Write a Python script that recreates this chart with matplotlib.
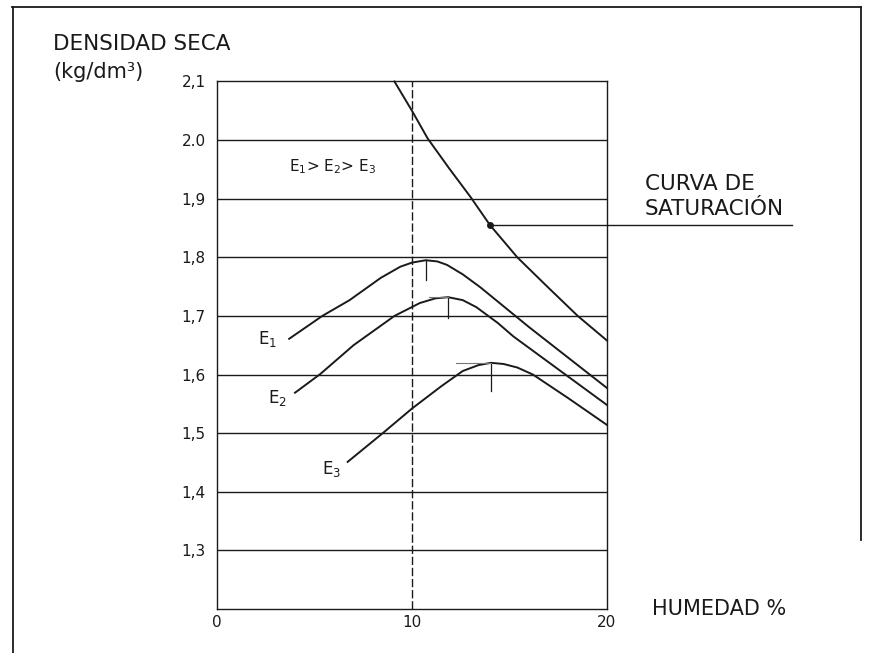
import matplotlib.pyplot as plt
from matplotlib.lines import Line2D

# values
y_ticks = [1.3, 1.4, 1.5, 1.6, 1.7, 1.8, 1.9, 2.0, 2.1]
y_labels = ['1,3', '1,4', '1,5', '1,6', '1,7', '1,8', '1,9', '2.0', '2,1']
x_ticks = [0, 10, 20]
x_labels = ['0', '10', '20']

sat_x = [9.1, 10.0, 10.8, 11.9, 13.0, 14.0, 15.4, 17.0, 18.5, 20.0]
sat_y = [2.10, 2.050, 2.003, 1.952, 1.903, 1.855, 1.80, 1.748, 1.700, 1.658]
sat_point = (14.0, 1.855)

e1_x = [3.7, 5.4, 6.8, 8.4, 9.4, 10.0, 10.7, 11.3, 11.8, 12.6, 13.5, 16.0, 20.0]
e1_y = [1.661, 1.700, 1.727, 1.765, 1.784, 1.791, 1.795, 1.793, 1.787, 1.771, 1.749, 1.681, 1.577]

e2_x = [4.0, 5.3, 7.0, 9.1, 10.4, 11.2, 11.85, 12.6, 13.3, 14.4, 15.2, 20.0]
e2_y = [1.569, 1.601, 1.650, 1.700, 1.722, 1.730, 1.732, 1.727, 1.715, 1.688, 1.665, 1.548]

e3_x = [6.7, 8.5, 10.0, 11.5, 12.6, 13.4, 14.05, 14.7, 15.4, 16.2, 18.0, 20.0]
e3_y = [1.451, 1.500, 1.542, 1.580, 1.606, 1.616, 1.620, 1.618, 1.612, 1.600, 1.560, 1.514]

# optimum (peak) markers
opt_x = [10.7, 11.85, 14.05]
opt_y = [1.795, 1.732, 1.620]

ink = '#1a1a1a'

fig = plt.figure(figsize=(8.74, 6.53), dpi=100)
ax = fig.add_axes([0.2483, 0.0674, 0.4462, 0.8078])
ax.set_xlim(0, 20)
ax.set_ylim(1.2, 2.1)

for s in ax.spines.values():
    s.set_color(ink)
    s.set_linewidth(1.0)

for v in y_ticks[:-1]:
    ax.axhline(v, color=ink, lw=1.0)
ax.axvline(10, color=ink, lw=1.0, ls=(0, (6, 2)))

ax.set_yticks(y_ticks)
ax.set_yticklabels(y_labels)
ax.set_xticks(x_ticks)
ax.set_xticklabels(x_labels)
ax.tick_params(axis='y', length=0, pad=8, labelsize=11, labelcolor=ink)
ax.tick_params(axis='x', length=0, pad=4, labelsize=11, labelcolor=ink)

# curves
ax.plot(sat_x, sat_y, color=ink, lw=1.4, clip_on=False)
ax.plot(e1_x, e1_y, color=ink, lw=1.4)
ax.plot(e2_x, e2_y, color=ink, lw=1.4)
ax.plot(e3_x, e3_y, color=ink, lw=1.4)

# peak ticks
ax.plot([opt_x[0], opt_x[0]], [opt_y[0], opt_y[0] - 0.034], color=ink, lw=0.9)
ax.plot([opt_x[1], opt_x[1]], [opt_y[1], opt_y[1] - 0.036], color=ink, lw=0.9)
ax.plot([opt_x[1] - 1.0, opt_x[1]], [opt_y[1], opt_y[1]], color='#777777', lw=0.8)
ax.plot([opt_x[2], opt_x[2]], [opt_y[2], opt_y[2] - 0.048], color=ink, lw=0.9)
ax.plot([opt_x[2] - 1.8, opt_x[2]], [opt_y[2], opt_y[2]], color='#777777', lw=0.8)

# saturation marker and leader line
ax.plot([sat_point[0]], [sat_point[1]], 'o', color=ink, ms=4)
ax.plot([sat_point[0], 29.5], [sat_point[1], sat_point[1]], color=ink, lw=1.0, clip_on=False)

# labels inside the plot
ax.text(5.9, 1.954, r'E$_1$> E$_2$> E$_3$', fontsize=11, color=ink, ha='center', va='center')
ax.text(2.6, 1.661, r'E$_1$', fontsize=12, color=ink, ha='center', va='center')
ax.text(3.08, 1.560, r'E$_2$', fontsize=12, color=ink, ha='center', va='center')
ax.text(5.9, 1.439, r'E$_3$', fontsize=12, color=ink, ha='center', va='center')

# axis titles
fig.text(53 / 874, 1 - 50 / 653, 'DENSIDAD SECA', fontsize=15.5, color=ink, va='baseline')
fig.text(53 / 874, 1 - 78 / 653, '(kg/dm³)', fontsize=15, color=ink, va='baseline')
fig.text(652 / 874, 1 - 615 / 653, 'HUMEDAD %', fontsize=15, color=ink, va='baseline')
fig.text(645 / 874, 1 - 190 / 653, 'CURVA DE', fontsize=15.5, color=ink, va='baseline')
fig.text(645 / 874, 1 - 215 / 653, 'SATURACIÓN', fontsize=15.5, color=ink, va='baseline')

# outer frame
fig.add_artist(Line2D([12 / 874, 861 / 874], [1 - 7 / 653, 1 - 7 / 653], transform=fig.transFigure, color=ink, lw=1.3))
fig.add_artist(Line2D([12.5 / 874, 12.5 / 874], [1 - 7 / 653, 0], transform=fig.transFigure, color=ink, lw=1.3))
fig.add_artist(Line2D([861 / 874, 861 / 874], [1 - 7 / 653, 1 - 540 / 653], transform=fig.transFigure, color=ink, lw=1.3))

fig.savefig('out.png', dpi=100)
